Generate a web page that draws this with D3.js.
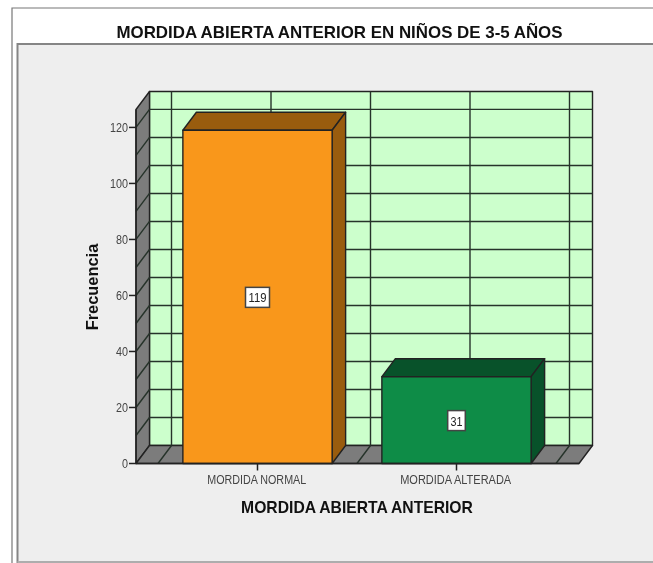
<!DOCTYPE html>
<html><head><meta charset="utf-8">
<script src="https://cdn.jsdelivr.net/npm/d3@7"></script>
<style>html,body{margin:0;padding:0;background:#fff}svg{display:block;filter:blur(.45px)}text{font-family:"Liberation Sans",Arial,sans-serif}</style>
</head><body><div id="c"></div>
<script>
const titleText = "MORDIDA ABIERTA ANTERIOR EN NIÑOS DE 3-5 AÑOS";
const xTitle = "MORDIDA ABIERTA ANTERIOR";
const yTitle = "Frecuencia";
const categories = ["MORDIDA NORMAL", "MORDIDA ALTERADA"];
const values = [119, 31];
const barFill = ["#f9971b", "#0e8c47"];
const barDark = ["#995c0e", "#08522a"];
const yTicks = [0, 20, 40, 60, 80, 100, 120];
const yGrid = [10, 20, 30, 40, 50, 60, 70, 80, 90, 100, 110, 120];
const yMax = 126.4;

const W = 653, H = 563, dx = 13.5, dy = -18;
const svg = d3.select("#c").append("svg").attr("width", W).attr("height", H);
const y = d3.scaleLinear().domain([0, yMax]).range([463.5, 109.5]);
const x = d3.scaleBand().domain(categories).range([158, 556]).paddingInner(0).paddingOuter(0);
const left = 136, right = 579;
const barW = x.bandwidth() * 0.75;
const ink = "#26332a";
const narrow = sel => sel.attr("textLength", function () { return this.textContent.length * 6; }).attr("lengthAdjust", "spacingAndGlyphs");

// frame
svg.append("path").attr("d", `M12 ${H}V8H${W}`).attr("fill", "none").attr("stroke", "#777").attr("stroke-width", 1.2);
svg.append("rect").attr("x", 17.5).attr("y", 44).attr("width", W).attr("height", 518)
  .attr("fill", "#eeeeee").attr("stroke", "#858585").attr("stroke-width", 2);
svg.append("path").attr("d", `M17.5 562H${W}`).attr("stroke", "#bbb").attr("stroke-width", 1.5);

svg.append("text").attr("x", 339.5).attr("y", 38).attr("text-anchor", "middle")
  .attr("font-size", 16.9).attr("font-weight", 700).attr("fill", "#111").text(titleText);

const g = svg.append("g");
const line = (a, b, c, d, w = 1.4, col = ink) => g.append("line").attr("x1", a).attr("y1", b).attr("x2", c).attr("y2", d).attr("stroke", col).attr("stroke-width", w);
const poly = (pts, fill, stroke = "#222", w = 1.4) => g.append("polygon").attr("points", pts.map(p => p.join(",")).join(" ")).attr("fill", fill).attr("stroke", stroke).attr("stroke-width", w).attr("stroke-linejoin", "round");

// back wall, side wall, floor
const y0 = y(0), yT = y(yMax);
poly([[left + dx, yT + dy], [right + dx, yT + dy], [right + dx, y0 + dy], [left + dx, y0 + dy]], "#ccffcc");
poly([[left, yT], [left + dx, yT + dy], [left + dx, y0 + dy], [left, y0]], "#7c7c7c");
poly([[left, y0], [left + dx, y0 + dy], [right + dx, y0 + dy], [right, y0]], "#7c7c7c");

// gridlines
yGrid.forEach(v => {
  line(left + dx, y(v) + dy, right + dx, y(v) + dy);
  line(left, y(v), left + dx, y(v) + dy);
});
const vGrid = [x.range()[0], ...categories.map(c => x(c) + x.bandwidth() / 2), ...categories.map(c => x(c) + x.bandwidth())];
vGrid.forEach(vx => {
  line(vx + dx, yT + dy, vx + dx, y0 + dy);
  line(vx, y0, vx + dx, y0 + dy);
});

// bars
const boxW = [24, 17.6];
categories.forEach((c, i) => {
  const l = x(c) + (x.bandwidth() - barW) / 2, r = l + barW, t = y(values[i]);
  poly([[l, t], [l + dx, t + dy], [r + dx, t + dy], [r, t]], barDark[i]);
  poly([[r, t], [r + dx, t + dy], [r + dx, y0 + dy], [r, y0]], barDark[i]);
  poly([[l, t], [r, t], [r, y0], [l, y0]], barFill[i]);
  const cx = (l + r) / 2, cy = (t + y0) / 2;
  g.append("rect").attr("x", cx - boxW[i] / 2).attr("y", cy - 9.5).attr("width", boxW[i]).attr("height", 20)
    .attr("fill", "#fff").attr("stroke", "#444").attr("stroke-width", 1.5);
  g.append("text").attr("x", cx).attr("y", cy + 5.5).attr("text-anchor", "middle")
    .attr("font-size", 13).attr("fill", "#222").text(values[i]).call(narrow);
});

// axes
const ax = svg.append("g").attr("transform", `translate(${left},0)`)
  .call(d3.axisLeft(y).tickValues(yTicks).tickSize(7).tickPadding(1).tickSizeOuter(0).offset(0));
ax.selectAll("text").attr("font-size", 13).attr("fill", "#444").style("font-family", '"Liberation Sans",Arial,sans-serif').call(narrow);
ax.selectAll("line").attr("stroke", "#222").attr("stroke-width", 1.5);
ax.select(".domain").attr("stroke", "#222").attr("stroke-width", 1.4);

const labelW = [99, 111];
const bx = svg.append("g").attr("transform", `translate(0,${y0})`)
  .call(d3.axisBottom(x).tickSize(7).tickPadding(5).tickSizeOuter(0).offset(0));
bx.selectAll("text").attr("font-size", 12).attr("fill", "#444").attr("dx", -0.8)
  .style("font-family", '"Liberation Sans",Arial,sans-serif')
  .attr("textLength", (d, i) => labelW[i]).attr("lengthAdjust", "spacingAndGlyphs");
bx.selectAll("line").attr("stroke", "#222").attr("stroke-width", 1.5);
bx.select(".domain").attr("d", `M${left} 0H${right}`).attr("stroke", "#222").attr("stroke-width", 1.7);

svg.append("text").attr("x", 357).attr("y", 512.5).attr("text-anchor", "middle")
  .attr("font-size", 15.7).attr("font-weight", 700).attr("fill", "#111").text(xTitle);
svg.append("text").attr("transform", "translate(97.5,287) rotate(-90)").attr("text-anchor", "middle")
  .attr("font-size", 16.4).attr("font-weight", 700).attr("fill", "#111").text(yTitle);
</script></body></html>
